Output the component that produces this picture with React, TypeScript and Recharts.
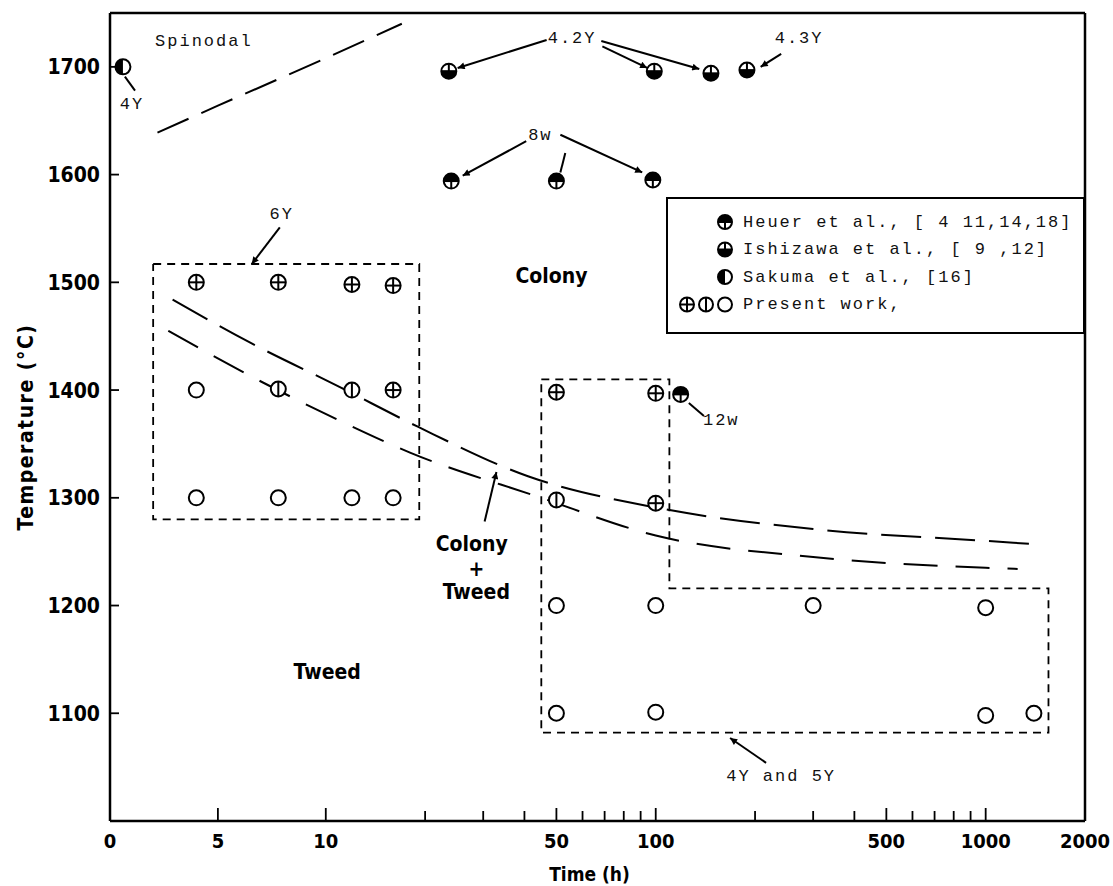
import { ComposedChart, XAxis, YAxis, Line, Scatter, ReferenceLine } from 'recharts';

const W = 1113;
const H = 886;
const SANS = "'DejaVu Sans Condensed', 'Liberation Sans Narrow', 'DejaVu Sans', sans-serif";
const MONO = "'Liberation Mono', 'DejaVu Sans Mono', monospace";

// time axis: 0-10 h is linear, 10-2000 h is logarithmic (as in the original figure)
const LIN = 0.654; // width of the linear stretch, in decades
const toU = (t: number) => (t >= 10 ? Math.log10(t) : 1 - (LIN * (10 - t)) / 10);
const fromU = (u: number) => (u >= 1 ? Math.pow(10, u) : 10 - ((1 - u) * 10) / LIN);
const U_MIN = toU(0);
const U_MAX = toU(2000);

const majorTicks = [0, 5, 10, 50, 100, 500, 1000, 2000];
const minorTicks = [20, 30, 40, 60, 70, 80, 90, 200, 300, 400, 600, 700, 800, 900];
const tempTicks = [1100, 1200, 1300, 1400, 1500, 1600, 1700];

// points: [time (h), temperature (°C)]
const heuerPts = [[24, 1594], [50, 1594], [98, 1595], [119, 1396]];
const ishizawaPts = [[23.6, 1696], [99, 1696], [147, 1694], [189, 1697]];
const sakumaPts = [[0.6, 1700]];
const crossPts = [[4, 1500], [7.8, 1500], [12, 1498], [16, 1497], [16, 1400], [50, 1398], [100, 1397], [100, 1295]];
const barPts = [[7.8, 1401], [12, 1400], [50, 1298]];
const openPts = [
  [4, 1400], [4, 1300], [7.8, 1300], [12, 1300], [16, 1300],
  [50, 1200], [100, 1200], [300, 1200], [1000, 1198],
  [50, 1100], [100, 1101], [1000, 1098], [1400, 1100],
];

// boundary curves
const upperCurve = [[2.9, 1484], [6.5, 1444], [11, 1403], [19, 1366], [41, 1320], [100, 1291], [300, 1271], [1000, 1260], [1400, 1257]];
const lowerCurve = [[2.7, 1455], [6.8, 1410], [11.3, 1370], [18, 1342], [44, 1301], [100, 1265], [300, 1245], [1000, 1235], [1250, 1234]];
const spinodalLine = [[2.2, 1639], [5, 1664], [10, 1708], [17, 1740]];

// dashed frames around the present-work samples
const box6Y = [[2, 1517], [19.2, 1517], [19.2, 1280], [2, 1280], [2, 1517]];
const box4Y5Y = [[45, 1410], [110, 1410], [110, 1216], [1550, 1216], [1550, 1082], [45, 1082], [45, 1410]];

// annotations
const noteTexts = ['Spinodal', '4Y', '4.2Y', '4.3Y', '8w', '6Y', '12w', '4Y and 5Y'];
const notePos = [[4.35, 1724], [1.02, 1665], [55.8, 1726], [272, 1726], [44.7, 1636], [7.96, 1563], [158, 1372], [240, 1041]];
const regionTexts = ['Colony', 'Tweed', 'Colony', '+', 'Tweed'];
const regionPos = [[48.3, 1506], [10.1, 1138], [27.7, 1257], [28.6, 1234], [28.6, 1213]];
// leader lines: from, to, arrow head at "to"
const leaders = [
  [[0.69, 1691], [1.16, 1678], 0],
  [[46.7, 1725], [25.1, 1699], 1],
  [[68.9, 1719], [94.2, 1699], 1],
  [[68.4, 1724], [135.5, 1698], 1],
  [[240, 1712], [208, 1700], 1],
  [[40.5, 1631], [26, 1599], 1],
  [[53.2, 1620], [51.4, 1602], 0],
  [[51.4, 1637], [91, 1602], 1],
  [[7.87, 1551], [6.57, 1517], 1],
  [[126, 1388], [140, 1376], 0],
  [[30.3, 1278], [32.9, 1324], 1],
  [[216, 1054], [168, 1077], 1],
] as [number[], number[], number][];

const legendKinds = [['heuer'], ['ishizawa'], ['sakuma'], ['cross', 'bar', 'open']];
const legendTexts = ['Heuer et al., [ 4 11,14,18]', 'Ishizawa et al., [ 9 ,12]', 'Sakuma et al., [16]', 'Present work,'];

const rows = (pts: number[][]) => pts.map(([t, T]) => ({ u: toU(t), T }));
const textRows = (pos: number[][], texts: string[]) => pos.map(([t, T], i) => ({ u: toU(t), T, label: texts[i] }));

function Marker({ cx, cy, kind, r = 7.5 }: { cx: number; cy: number; kind: string; r?: number }) {
  const s = { stroke: '#000', strokeWidth: 2 };
  return (
    <g>
      <circle cx={cx} cy={cy} r={r} fill="#fff" {...s} />
      {kind === 'cross' && (
        <>
          <line x1={cx - r} y1={cy} x2={cx + r} y2={cy} {...s} />
          <line x1={cx} y1={cy - r} x2={cx} y2={cy + r} {...s} />
        </>
      )}
      {kind === 'bar' && <line x1={cx} y1={cy - r} x2={cx} y2={cy + r} {...s} />}
      {kind === 'heuer' && (
        <>
          <path d={`M${cx - r},${cy} A${r},${r} 0 0 1 ${cx + r},${cy} Z`} fill="#000" />
          <line x1={cx - r} y1={cy} x2={cx + r} y2={cy} {...s} />
          <line x1={cx} y1={cy} x2={cx} y2={cy + r} {...s} />
        </>
      )}
      {kind === 'ishizawa' && (
        <>
          <path d={`M${cx - r},${cy} A${r},${r} 0 0 0 ${cx + r},${cy} Z`} fill="#000" />
          <line x1={cx - r} y1={cy} x2={cx + r} y2={cy} {...s} />
          <line x1={cx} y1={cy - r} x2={cx} y2={cy} {...s} />
        </>
      )}
      {kind === 'sakuma' && <path d={`M${cx},${cy - r} A${r},${r} 0 0 0 ${cx},${cy + r} Z`} fill="#000" />}
    </g>
  );
}

function XTick({ x, y, payload }: any) {
  const t = Math.round(fromU(payload.value));
  const major = majorTicks.includes(t);
  return (
    <g>
      <line x1={x} y1={y} x2={x} y2={y - (major ? 13 : 10)} stroke="#000" strokeWidth={1.8} />
      {major && (
        <text x={x} y={y + 27} textAnchor="middle" fontFamily={SANS} fontWeight={700} fontSize={20} fill="#000">
          {t}
        </text>
      )}
    </g>
  );
}

function YTick({ x, y, payload }: any) {
  return (
    <g>
      <line x1={x} y1={y} x2={x + 9} y2={y} stroke="#000" strokeWidth={1.8} />
      <text x={x - 10} y={y + 7.5} textAnchor="end" fontFamily={SANS} fontWeight={700} fontSize={21} fill="#000">
        {payload.value}
      </text>
    </g>
  );
}

const noteShape = (p: any) => (
  <text x={p.cx} y={p.cy} textAnchor="middle" dominantBaseline="central" fontFamily={MONO} fontSize={17} letterSpacing={2} fill="#111">
    {p.payload.label}
  </text>
);

const regionShape = (p: any) => (
  <text x={p.cx} y={p.cy} textAnchor="middle" dominantBaseline="central" fontFamily={SANS} fontWeight={700} fontSize={21} fill="#000">
    {p.payload.label}
  </text>
);

function LegendBox() {
  return (
    <svg width={419} height={137} style={{ position: 'absolute', left: 666, top: 197 }}>
      <rect x={1} y={1} width={417} height={135} fill="#fff" stroke="#000" strokeWidth={2} />
      {legendTexts.map((txt, i) => {
        const cy = 25 + i * 27.5;
        const kinds = legendKinds[i];
        return (
          <g key={txt}>
            {kinds.map((k, j) => (
              <Marker key={k} kind={k} cx={59 - (kinds.length - 1 - j) * 19} cy={cy} r={7} />
            ))}
            <text x={77} y={cy} dominantBaseline="central" fontFamily={MONO} fontSize={17} letterSpacing={2} fill="#111">
              {txt}
            </text>
          </g>
        );
      })}
    </svg>
  );
}

export default function App() {
  const dashed = { stroke: '#000', dot: false, isAnimationActive: false, dataKey: 'T' } as const;
  return (
    <div style={{ position: 'absolute', left: 0, top: 0, width: W, height: H, background: '#fff' }}>
      <svg width={0} height={0} style={{ position: 'absolute' }}>
        <defs>
          <marker id="arrowHead" viewBox="0 0 10 10" refX={10} refY={5} markerWidth={10} markerHeight={7} markerUnits="userSpaceOnUse" orient="auto">
            <path d="M0,0 L10,5 L0,10 Z" fill="#000" />
          </marker>
        </defs>
      </svg>
      <ComposedChart width={W} height={H} margin={{ top: 13, right: 28, bottom: 0, left: 0 }}>
        <XAxis
          type="number"
          dataKey="u"
          domain={[U_MIN, U_MAX]}
          allowDataOverflow
          ticks={[...majorTicks, ...minorTicks].map(toU)}
          interval={0}
          tickSize={0}
          tickMargin={0}
          tickLine={false}
          tick={<XTick />}
          axisLine={{ stroke: '#000', strokeWidth: 2.5 }}
          height={65}
          label={{
            content: ({ viewBox }: any) => (
              <text x={viewBox.x + viewBox.width / 2 - 8} y={viewBox.y + viewBox.height - 5} textAnchor="middle" fontFamily={SANS} fontWeight={700} fontSize={19} fill="#000">
                Time (h)
              </text>
            ),
          }}
        />
        <YAxis
          type="number"
          dataKey="T"
          domain={[1000, 1750]}
          allowDataOverflow
          ticks={tempTicks}
          interval={0}
          tickSize={0}
          tickMargin={0}
          tickLine={false}
          tick={<YTick />}
          axisLine={{ stroke: '#000', strokeWidth: 2.5 }}
          width={110}
          label={{
            content: ({ viewBox }: any) => {
              const cx = viewBox.x + 26;
              const cy = viewBox.y + viewBox.height / 2 + 10;
              return (
                <text x={cx} y={cy} transform={`rotate(-90 ${cx} ${cy})`} textAnchor="middle" dominantBaseline="central" fontFamily={SANS} fontWeight={700} fontSize={21} letterSpacing={1.5} fill="#000">
                  Temperature (°C)
                </text>
              );
            },
          }}
        />
        <ReferenceLine y={1750} stroke="#000" strokeWidth={2.5} />
        <ReferenceLine x={U_MAX} stroke="#000" strokeWidth={2.5} />

        <Line data={rows(spinodalLine)} type="linear" strokeWidth={2} strokeDasharray="34 14" {...dashed} />
        <Line data={rows(upperCurve)} type="monotone" strokeWidth={2} strokeDasharray="40 14" {...dashed} />
        <Line data={rows(lowerCurve)} type="monotone" strokeWidth={2} strokeDasharray="34 18" {...dashed} />
        <Line data={rows(box6Y)} type="linear" strokeWidth={1.8} strokeDasharray="8 6" {...dashed} />
        <Line data={rows(box4Y5Y)} type="linear" strokeWidth={1.8} strokeDasharray="8 6" {...dashed} />

        {leaders.map(([a, b, arrow], i) => (
          <ReferenceLine
            key={i}
            segment={[{ x: toU(a[0]), y: a[1] }, { x: toU(b[0]), y: b[1] }]}
            stroke="#000"
            strokeWidth={2}
            markerEnd={arrow ? 'url(#arrowHead)' : undefined}
          />
        ))}

        <Scatter data={rows(openPts)} dataKey="T" isAnimationActive={false} shape={(p: any) => <Marker kind="open" cx={p.cx} cy={p.cy} />} />
        <Scatter data={rows(barPts)} dataKey="T" isAnimationActive={false} shape={(p: any) => <Marker kind="bar" cx={p.cx} cy={p.cy} />} />
        <Scatter data={rows(crossPts)} dataKey="T" isAnimationActive={false} shape={(p: any) => <Marker kind="cross" cx={p.cx} cy={p.cy} />} />
        <Scatter data={rows(heuerPts)} dataKey="T" isAnimationActive={false} shape={(p: any) => <Marker kind="heuer" cx={p.cx} cy={p.cy} />} />
        <Scatter data={rows(ishizawaPts)} dataKey="T" isAnimationActive={false} shape={(p: any) => <Marker kind="ishizawa" cx={p.cx} cy={p.cy} />} />
        <Scatter data={rows(sakumaPts)} dataKey="T" isAnimationActive={false} shape={(p: any) => <Marker kind="sakuma" cx={p.cx} cy={p.cy} />} />

        <Scatter data={textRows(notePos, noteTexts)} dataKey="T" isAnimationActive={false} shape={noteShape} />
        <Scatter data={textRows(regionPos, regionTexts)} dataKey="T" isAnimationActive={false} shape={regionShape} />
      </ComposedChart>
      <LegendBox />
    </div>
  );
}
